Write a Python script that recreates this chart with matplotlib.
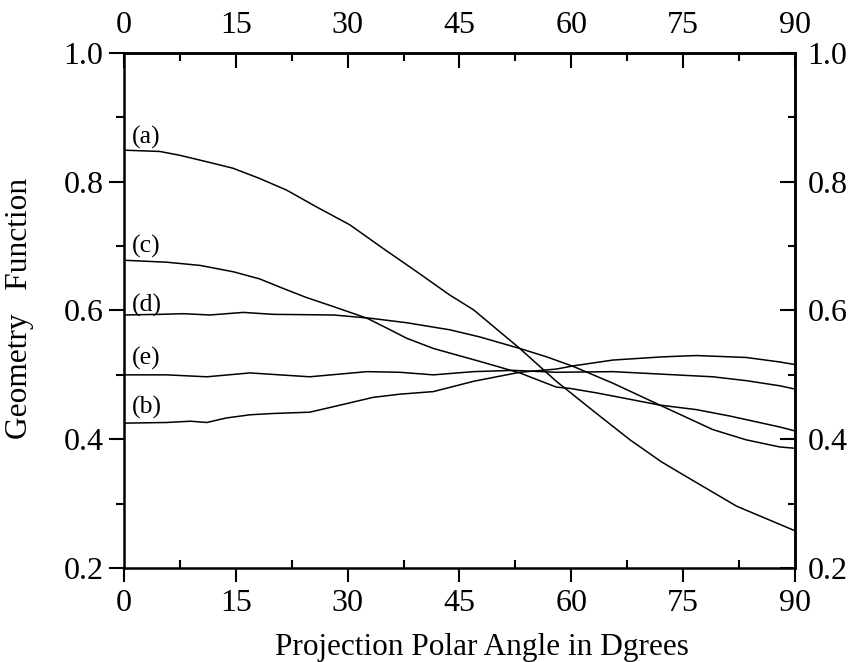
import matplotlib
matplotlib.use("Agg")
import matplotlib.pyplot as plt
from matplotlib.ticker import MultipleLocator, FormatStrFormatter

plt.rcParams['font.family'] = ['Liberation Serif', 'DejaVu Serif']

# Data (angle in degrees, geometry function)
a_x = [0, 4.8, 7.5, 11.1, 14.6, 18.2, 21.8, 25.8, 30.3, 34.8, 39.3, 43.7, 46.9, 53.1, 58.0, 63.4, 67.9, 72.1, 75.0, 82.2, 90]
a_y = [0.849, 0.847, 0.841, 0.831, 0.821, 0.805, 0.787, 0.761, 0.733, 0.696, 0.660, 0.624, 0.601, 0.541, 0.490, 0.440, 0.399, 0.365, 0.345, 0.296, 0.258]

b_x = [0, 5.7, 8.9, 11.1, 13.7, 16.9, 20.0, 24.9, 29.0, 33.4, 37.0, 41.5, 46.9, 53.1, 58.0, 60.3, 65.6, 72.3, 76.8, 83.5, 88.0, 90]
b_y = [0.425, 0.426, 0.428, 0.426, 0.433, 0.438, 0.440, 0.442, 0.453, 0.465, 0.470, 0.474, 0.490, 0.504, 0.509, 0.514, 0.523, 0.528, 0.530, 0.527, 0.520, 0.516]

c_x = [0, 5.7, 10.2, 14.7, 18.2, 21.4, 24.5, 28.1, 32.6, 35.7, 37.9, 41.5, 47.7, 53.1, 58.0, 59.8, 63.4, 67.9, 71.9, 76.8, 81.3, 88.0, 90]
c_y = [0.678, 0.675, 0.670, 0.660, 0.649, 0.634, 0.620, 0.606, 0.588, 0.570, 0.557, 0.541, 0.521, 0.503, 0.481, 0.479, 0.472, 0.462, 0.453, 0.446, 0.436, 0.419, 0.413]

d_x = [0, 4.8, 8.0, 11.5, 16.0, 20.0, 28.1, 33.0, 37.9, 43.7, 47.7, 53.1, 56.7, 60.3, 65.6, 71.9, 79.0, 83.5, 88.0, 90]
d_y = [0.593, 0.594, 0.595, 0.593, 0.597, 0.594, 0.593, 0.588, 0.581, 0.570, 0.559, 0.541, 0.528, 0.513, 0.487, 0.453, 0.415, 0.399, 0.388, 0.386]

e_x = [0, 5.7, 11.1, 16.9, 24.9, 32.6, 37.0, 41.5, 46.9, 52.2, 58.0, 65.6, 72.3, 79.0, 83.5, 88.0, 90]
e_y = [0.500, 0.500, 0.497, 0.503, 0.497, 0.505, 0.504, 0.500, 0.505, 0.507, 0.504, 0.505, 0.501, 0.497, 0.491, 0.483, 0.478]

labels = ['(a)', '(c)', '(d)', '(e)', '(b)']
label_y = [0.869, 0.699, 0.608, 0.526, 0.449]
label_x = 1.0

xticks = [0, 15, 30, 45, 60, 75, 90]
yticks = [0.2, 0.4, 0.6, 0.8, 1.0]

fig = plt.figure(figsize=(8.5, 6.62), dpi=100)
ax = fig.add_axes([0.146, 0.142, 0.789, 0.778])

for xs, ys in [(a_x, a_y), (b_x, b_y), (c_x, c_y), (d_x, d_y), (e_x, e_y)]:
    ax.plot(xs, ys, color='black', lw=1.1)

for lab, ly in zip(labels, label_y):
    ax.text(label_x, ly, lab, fontsize=18.5, ha='left', va='center')

ax.set_xlim(0, 90)
ax.set_ylim(0.2, 1.0)
ax.set_xticks(xticks)
ax.set_yticks(yticks)
ax.xaxis.set_minor_locator(MultipleLocator(7.5))
ax.yaxis.set_minor_locator(MultipleLocator(0.1))
ax.yaxis.set_major_formatter(FormatStrFormatter('%.1f'))

fs = 23
ax.tick_params(axis='x', which='major', direction='out', length=10, width=1.5, labelsize=fs, pad=5)
ax.tick_params(axis='x', which='minor', direction='in', length=6, width=1.5)
ax.tick_params(axis='y', which='major', direction='out', length=11, width=1.5, labelsize=fs, pad=4)
ax.tick_params(axis='y', which='minor', direction='out', length=6, width=1.5)
for s in ax.spines.values():
    s.set_linewidth(1.8)

top = ax.secondary_xaxis('top')
top.set_xticks(xticks)
top.xaxis.set_minor_locator(MultipleLocator(7.5))
top.tick_params(which='major', direction='in', length=11, width=1.5, labelsize=fs, pad=9)
top.tick_params(which='minor', direction='in', length=6, width=1.5)
top.spines['top'].set_linewidth(1.8)

right = ax.secondary_yaxis('right')
right.set_yticks(yticks)
right.yaxis.set_minor_locator(MultipleLocator(0.1))
right.yaxis.set_major_formatter(FormatStrFormatter('%.1f'))
right.tick_params(which='major', direction='in', length=11, width=1.5, labelsize=fs, pad=9)
right.tick_params(which='minor', direction='in', length=5, width=1.5)
right.spines['right'].set_linewidth(1.8)

ax.set_xlabel('Projection Polar Angle in Dgrees', fontsize=22.5)
ax.xaxis.label.set_va('baseline')
ax.xaxis.set_label_coords(0.533, -0.169)
ax.set_ylabel('Geometry   Function', fontsize=22.6)
ax.yaxis.set_label_coords(-0.134, 0.503)

fig.savefig('out.png', dpi=100)
